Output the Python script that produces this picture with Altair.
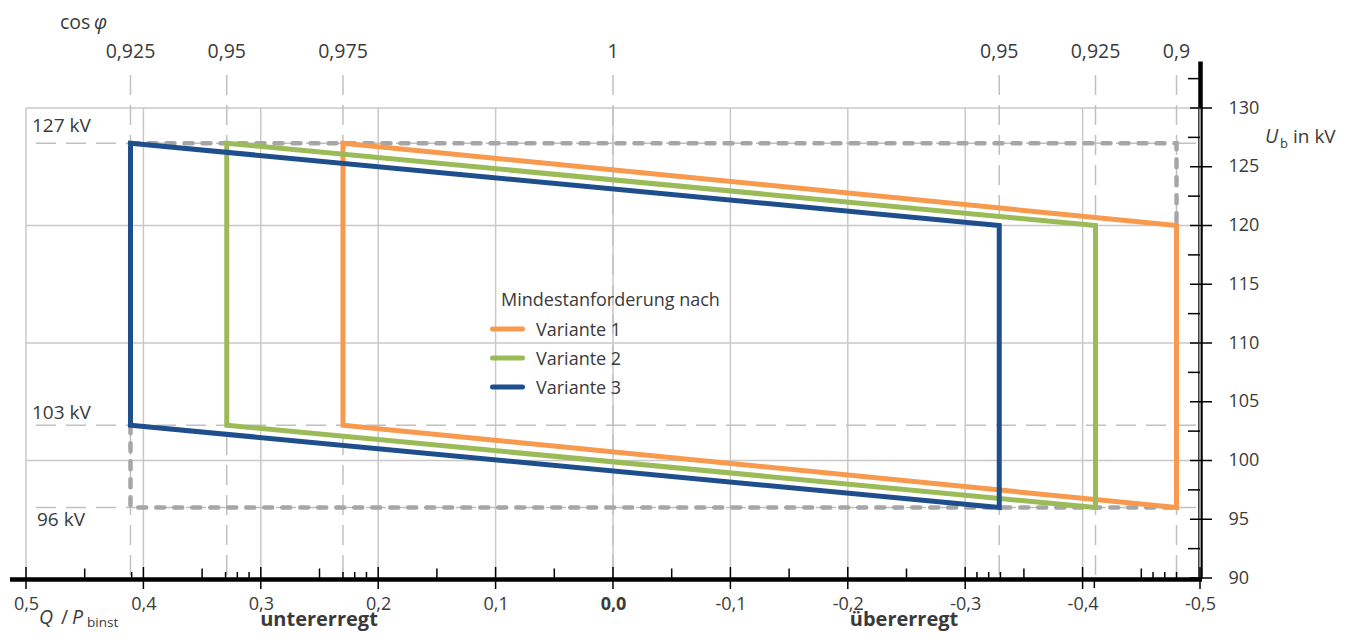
import altair as alt
import pandas as pd

# ---------------- data ----------------
variants = ["Variante 1", "Variante 2", "Variante 3"]
colors = ["#F79A4E", "#9BBB59", "#1F4E8C"]
q_under = [0.23, 0.329, 0.411]       # Q/P limit, untererregt side
q_over = [-0.48, -0.411, -0.329]     # Q/P limit, übererregt side
corner_u = [127, 120, 96, 103, 127]  # U_b at polygon corners
corner_side = ["under", "over", "over", "under", "under"]

env_seg = ["top", "top", "top", "bottom", "bottom", "bottom"]
env_q = [0.411, -0.48, -0.48, 0.411, 0.411, -0.48]
env_u = [127, 127, 120, 103, 96, 96]

cos_q = [0.411, 0.329, 0.23, 0.0, -0.329, -0.411, -0.48]
cos_labels = ["0,925", "0,95", "0,975", "1", "0,95", "0,925", "0,9"]

u_levels = [127, 103, 96]
u_level_labels = ["127 kV", "103 kV", "96 kV"]

x_major = [0.5, 0.4, 0.3, 0.2, 0.1, 0.0, -0.1, -0.2, -0.3, -0.4, -0.5]
x_major_labels = ["0,5", "0,4", "0,3", "0,2", "0,1", "0,0",
                  "-0,1", "-0,2", "-0,3", "-0,4", "-0,5"]
x_minor = [0.45, 0.35, 0.25, 0.15, 0.05, -0.05, -0.15, -0.25, -0.35, -0.45]
x_fine_up = [0.41, 0.33, 0.32, 0.31, 0.23, 0.22, 0.21,
             -0.31, -0.32, -0.33, -0.46, -0.47, -0.48]
x_fine_down = [-0.41]

y_major = [90, 95, 100, 105, 110, 115, 120, 125, 130]
y_minor = [92.5, 97.5, 102.5, 107.5, 112.5, 117.5, 122.5, 127.5, 132.5]
y_grid = [100, 110, 120, 130]

legend_title = "Mindestanforderung nach"

# ---------------- tables ----------------
rows = []
for v, qu, qo in zip(variants, q_under, q_over):
    for i, (u, s) in enumerate(zip(corner_u, corner_side)):
        rows.append({"variant": v, "i": i, "q": qu if s == "under" else qo, "u": u})
poly = pd.DataFrame(rows)
env = pd.DataFrame({"seg": env_seg, "i": list(range(len(env_q))), "q": env_q, "u": env_u})
cosdf = pd.DataFrame({"q": cos_q, "label": cos_labels})
levels = pd.DataFrame({"u": u_levels, "label": u_level_labels})

W, H = 1174, 517
FONT = "Open Sans"
TXT = "#3A3A3A"
GRID = "#C8C8C8"

xs = alt.Scale(domain=[-0.5, 0.5], reverse=True, nice=False, zero=False)
ys = alt.Scale(domain=[90, 134], nice=False, zero=False)

label_arr = "[" + ",".join("'" + s + "'" for s in x_major_labels) + "]"
x_axis = alt.Axis(
    values=x_major,
    labelExpr=label_arr + "[round((0.5 - datum.value) * 10)]",
    domain=False, ticks=False, tickSize=0, grid=False,
    labelPadding=17, labelFontSize=18, labelFont=FONT, labelColor=TXT,
    labelFontWeight={"condition": {"test": "abs(datum.value) < 0.001", "value": "bold"}, "value": "normal"},
    labelFlush=False, labelOverlap=False, title=None,
)
y_axis = alt.Axis(
    orient="right", values=y_major, format="d",
    domain=True, domainColor="black", domainWidth=4.5,
    ticks=False, tickSize=0, grid=False,
    labelPadding=28, labelFontSize=18, labelFont=FONT, labelColor=TXT,
    labelFlush=False, labelOverlap=False, title=None,
)


def X(field=None, datum=None):
    if datum is not None:
        return alt.X(datum=datum, type="quantitative", scale=xs, axis=x_axis)
    return alt.X(field, type="quantitative", scale=xs, axis=x_axis)


def Y(field=None, datum=None):
    if datum is not None:
        return alt.Y(datum=datum, type="quantitative", scale=ys, axis=y_axis)
    return alt.Y(field, type="quantitative", scale=ys, axis=y_axis)


def lst(name, vals):
    return pd.DataFrame({name: vals})


color_scale = alt.Scale(domain=variants, range=colors)
layers = []

# grid
layers.append(alt.Chart(lst("q", x_major)).mark_rule(color=GRID, strokeWidth=1.5).encode(
    x=X("q"), y=Y(datum=90), y2=alt.Y2(datum=130)))
layers.append(alt.Chart(lst("u", y_grid)).mark_rule(color=GRID, strokeWidth=1.5).encode(
    y=Y("u"), x=X(datum=0.5), x2=alt.X2(datum=-0.5)))

# thin dashed reference lines
layers.append(alt.Chart(cosdf).mark_rule(color="#C0C0C0", strokeWidth=1.5, strokeDash=[20, 10]).encode(
    x=X("q"), y=alt.value(14), y2=alt.value(H)))
layers.append(alt.Chart(levels).mark_rule(color="#C0C0C0", strokeWidth=1.5, strokeDash=[20, 10]).encode(
    y=Y("u"), x=alt.value(10), x2=alt.value(W)))

# thick dashed envelope
layers.append(alt.Chart(env).mark_line(color="#A6A6A6", strokeWidth=4.5, strokeDash=[8, 10],
                                       strokeCap="round").encode(
    x=X("q"), y=Y("u"), detail="seg:N", order="i:Q"))

# variant polygons
layers.append(alt.Chart(poly).mark_line(strokeWidth=5, strokeJoin="miter", strokeCap="square").encode(
    x=X("q"), y=Y("u"), order="i:Q",
    color=alt.Color("variant:N", scale=color_scale, legend=None),
    detail="variant:N"))

# axis lines and ticks
layers.append(alt.Chart(lst("q", [0])).mark_rule(color="black", strokeWidth=4.5).encode(
    y=alt.value(H + 1.5), x=alt.value(-16), x2=alt.value(W + 2)))
layers.append(alt.Chart(lst("q", x_major)).mark_rule(color="black", strokeWidth=1.5).encode(
    x=X("q"), y=alt.value(H - 11), y2=alt.value(H + 11)))
layers.append(alt.Chart(lst("q", x_minor)).mark_rule(color="black", strokeWidth=1.5).encode(
    x=X("q"), y=alt.value(H - 9.5), y2=alt.value(H)))
layers.append(alt.Chart(lst("q", x_fine_up)).mark_rule(color="black", strokeWidth=1.5).encode(
    x=X("q"), y=alt.value(H - 6), y2=alt.value(H)))
layers.append(alt.Chart(lst("q", x_fine_down)).mark_rule(color="black", strokeWidth=1.5).encode(
    x=X("q"), y=alt.value(H), y2=alt.value(H + 10)))
layers.append(alt.Chart(lst("u", y_major)).mark_rule(color="black", strokeWidth=1.5).encode(
    y=Y("u"), x=alt.value(W - 10), x2=alt.value(W + 12)))
layers.append(alt.Chart(lst("u", y_minor)).mark_rule(color="black", strokeWidth=1.5).encode(
    y=Y("u"), x=alt.value(W - 12), x2=alt.value(W)))

# texts
layers.append(alt.Chart(cosdf).mark_text(font=FONT, fontSize=19.5, color=TXT, baseline="middle").encode(
    x=X("q"), y=alt.value(-9), text="label:N"))
for i, dy in zip(range(3), [-17, -12, 12.5]):
    layers.append(alt.Chart(levels.iloc[[i]]).mark_text(font=FONT, fontSize=19, color=TXT, align="left",
                                                        baseline="middle", dy=dy).encode(
        y=Y("u"), x=alt.value(6 if i < 2 else 11), text="label:N"))


def txt(s, x, y, size=19, style="normal", weight="normal", align="left"):
    return alt.Chart(pd.DataFrame({"t": [s]})).mark_text(
        font=FONT, fontSize=size, fontStyle=style, fontWeight=weight, color=TXT,
        align=align, baseline="alphabetic").encode(x=alt.value(x), y=alt.value(y), text="t:N")


layers += [
    txt("cos", 34, -32.5, 19.5),
    txt("φ", 68, -32.5, 19.5, style="italic"),
    txt("U", 1239, 82, 19.5, style="italic"),
    txt("b", 1254, 87, 13),
    txt("in kV", 1267, 82, 19),
    txt("Q", 13, 563, 19.5, style="italic"),
    txt("/", 35, 563, 19.5),
    txt("P", 46, 563, 19.5, style="italic"),
    txt("binst", 61, 566, 13.5),
    txt("untererregt", 293, 565, 20, weight="bold", align="center"),
    txt("übererregt", 878, 565, 20, weight="bold", align="center"),
]

# legend (drawn from the variant list and colour scale)
LX, LY, ROW = 464, 268, 29
layers.append(txt(legend_title, LX + 11, LY - 23, 18))
for i, v in enumerate(variants):
    ldf = pd.DataFrame({"variant": [v]})
    layers.append(alt.Chart(ldf).mark_rule(strokeWidth=5, strokeCap="round").encode(
        x=alt.value(LX + 2.5), x2=alt.value(LX + 32.5), y=alt.value(LY + i * ROW),
        color=alt.Color("variant:N", scale=color_scale, legend=None)))
    layers.append(alt.Chart(ldf).mark_text(font=FONT, fontSize=18, color=TXT, align="left",
                                           baseline="alphabetic").encode(
        x=alt.value(LX + 46), y=alt.value(LY + i * ROW + 6.5), text="variant:N"))

chart = alt.layer(*layers).properties(
    width=W, height=H,
    padding={"left": 18, "top": 53, "right": 140, "bottom": 53},
    autosize=alt.AutoSizeParams(type="none"),
    background="white",
).configure_view(stroke=None)

chart.save("out.html", embed_options={"renderer": "svg", "actions": False})
